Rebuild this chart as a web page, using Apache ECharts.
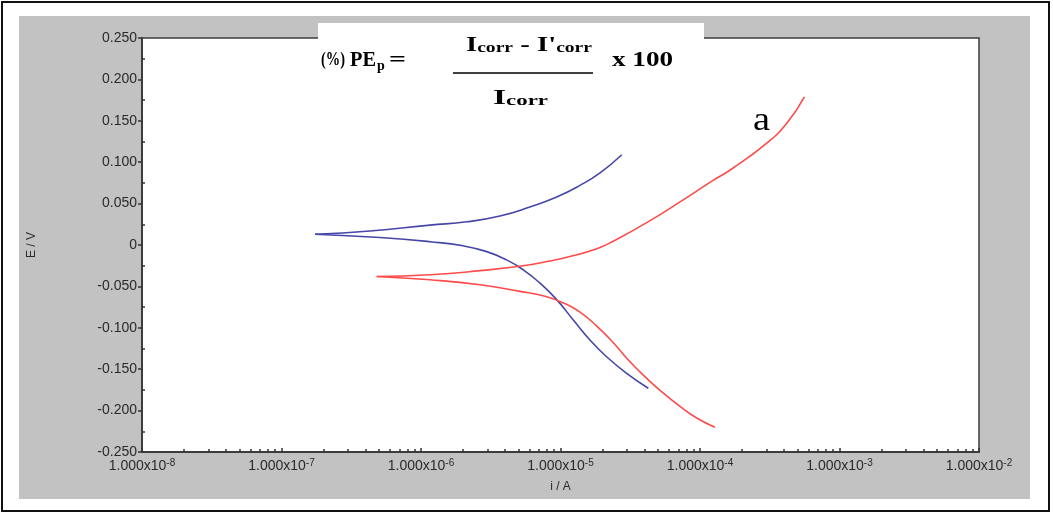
<!DOCTYPE html>
<html>
<head>
<meta charset="utf-8">
<script src="https://cdn.jsdelivr.net/npm/echarts@6/dist/echarts.min.js"></script>
<style>
html,body{margin:0;padding:0;background:#fff;}
#chart{width:1053px;height:515px;}
</style>
</head>
<body>
<div id="chart"></div>
<script>
// ---- Data (current i in A, potential E in V) ----
const blueAnodicI = [1.74e-7, 4.31e-7, 1.16e-6, 2.13e-6, 3.68e-6, 6.04e-6, 9.39e-6, 1.38e-5, 1.92e-5, 2.75e-5];
const blueAnodicE = [0.013, 0.017, 0.024, 0.028, 0.035, 0.046, 0.058, 0.072, 0.087, 0.109];
const blueCathodicI = [1.74e-7, 5.08e-7, 1.16e-6, 2.01e-6, 2.96e-6, 4.11e-6, 5.41e-6, 7.13e-6, 9.39e-6, 1.24e-5, 1.63e-5, 2.14e-5, 2.98e-5, 4.26e-5];
const blueCathodicE = [0.013, 0.009, 0.004, -0.001, -0.008, -0.018, -0.030, -0.046, -0.066, -0.091, -0.115, -0.135, -0.155, -0.173];
const redAnodicI = [4.81e-7, 1.16e-6, 2.65e-6, 5.41e-6, 7.96e-6, 1.17e-5, 1.82e-5, 2.39e-5, 4.15e-5, 7.19e-5, 1.24e-4, 1.73e-4, 3.01e-4, 4.19e-4, 5.60e-4];
const redAnodicE = [-0.038, -0.036, -0.031, -0.025, -0.020, -0.014, -0.0045, 0.0046, 0.027, 0.052, 0.078, 0.093, 0.123, 0.147, 0.179];
const redCathodicI = [4.81e-7, 1.16e-6, 2.65e-6, 5.13e-6, 7.74e-6, 1.05e-5, 1.38e-5, 1.82e-5, 2.39e-5, 3.15e-5, 4.15e-5, 5.46e-5, 7.19e-5, 9.46e-5, 1.28e-4];
const redCathodicE = [-0.038, -0.042, -0.048, -0.056, -0.062, -0.070, -0.081, -0.098, -0.118, -0.141, -0.161, -0.179, -0.195, -0.209, -0.220];

const xMajorTicks = [1e-8, 1e-7, 1e-6, 1e-5, 1e-4, 1e-3, 1e-2];
const yMinorTicks = [0.225, 0.175, 0.125, 0.075, 0.025, -0.025, -0.075, -0.125, -0.175, -0.225];

const zip = (a, b) => a.map((v, i) => [v, b[i]]);
const xMinorTicks = [];
for (let d = -8; d < -2; d++) for (let m = 2; m <= 9; m++) xMinorTicks.push(m * Math.pow(10, d));

const SERIF = '"Liberation Serif","Times New Roman",serif';
const SANS = 'Arial,"Liberation Sans",Helvetica,sans-serif';

// measure text to fit formula pieces into their widths
const ctx = document.createElement('canvas').getContext('2d');
function fontOf(size, weight) { return (weight || 'bold') + ' ' + size + 'px ' + SERIF; }
function measure(text, size, weight) { ctx.font = fontOf(size, weight); return ctx.measureText(text).width; }
function piece(text, left, width, cy, size, weight) {
  const w = measure(text, size, weight);
  return {
    type: 'text', x: left, y: cy, z: 20, scaleX: width ? width / w : 1,
    style: { text: text, x: 0, y: 0, font: fontOf(size, weight), fill: '#000', textAlign: 'left', textVerticalAlign: 'middle' }
  };
}
// tokens: [text, isSub]
function richPiece(tokens, left, width, cy) {
  let w = 0, str = '';
  tokens.forEach(t => { w += measure(t[0], t[1] ? 15 : 22); str += '{' + (t[1] ? 's' : 'm') + '|' + t[0] + '}'; });
  return {
    type: 'text', x: left, y: cy, z: 20, scaleX: width / w,
    style: {
      text: str, x: 0, y: 0, fill: '#000', textAlign: 'left', textVerticalAlign: 'middle',
      rich: {
        m: { font: fontOf(22), fill: '#000', lineHeight: 26, verticalAlign: 'bottom' },
        s: { font: fontOf(15), fill: '#000', lineHeight: 20, verticalAlign: 'bottom' }
      }
    }
  };
}

const chart = echarts.init(document.getElementById('chart'), null, { renderer: 'canvas' });
const BLUE = '#4646a8', RED = '#ff4a4a';
function curve(data, color) {
  return { type: 'line', data: data, smooth: 0.5, showSymbol: false,
    lineStyle: { color: color, width: 1.6 }, itemStyle: { color: color } };
}
const labelColor = '#2a2a2a';
chart.setOption({
  animation: false,
  backgroundColor: '#fff',
  grid: { left: 142, right: 74, top: 38, bottom: 63, show: true, backgroundColor: '#fff', borderColor: '#3c3c3c', borderWidth: 1.5 },
  xAxis: [{
    type: 'log', logBase: 10, min: 1e-8, max: 1e-2,
    name: 'i / A', nameLocation: 'middle', nameGap: 29,
    nameTextStyle: { fontFamily: SANS, fontSize: 12, color: labelColor },
    axisLine: { show: true, onZero: false, lineStyle: { color: '#3c3c3c', width: 2 } },
    axisTick: { show: true, inside: true, length: 4, customValues: xMajorTicks, lineStyle: { color: '#333', width: 1.5 } },
    axisLabel: {
      show: true, margin: 6, customValues: xMajorTicks,
      formatter: function (v) {
        const e = Math.round(Math.log10(v));
        return '{n|1.000x10}{e|' + e + '}';
      },
      rich: {
        n: { fontFamily: SANS, fontSize: 14, color: labelColor, lineHeight: 16 },
        e: { fontFamily: SANS, fontSize: 10, color: labelColor, verticalAlign: 'top', lineHeight: 16 }
      }
    },
    splitLine: { show: false }
  }, {
    type: 'log', logBase: 10, min: 1e-8, max: 1e-2, position: 'bottom',
    axisLine: { show: false, onZero: false },
    axisTick: { show: true, inside: true, length: 3, customValues: xMinorTicks, lineStyle: { color: '#333', width: 1.5 } },
    axisLabel: { show: false },
    splitLine: { show: false }
  }],
  yAxis: [{
    type: 'value', min: -0.25, max: 0.25, interval: 0.05,
    name: 'E / V', nameLocation: 'middle', nameGap: 104, nameRotate: 90,
    nameTextStyle: { fontFamily: SANS, fontSize: 12, color: labelColor },
    axisLine: { show: true, onZero: false, lineStyle: { color: '#3c3c3c', width: 2 } },
    axisTick: { show: true, inside: false, length: 4, lineStyle: { color: '#333', width: 1.5 } },
    axisLabel: {
      margin: 5, fontFamily: SANS, fontSize: 14, color: labelColor,
      formatter: v => Math.abs(v) < 1e-9 ? '0' : v.toFixed(3)
    },
    splitLine: { show: false }
  }, {
    type: 'value', min: -0.25, max: 0.25, position: 'left',
    axisLine: { show: false, onZero: false },
    axisTick: { show: true, inside: true, length: 3, customValues: yMinorTicks, lineStyle: { color: '#333', width: 1.5 } },
    axisLabel: { show: false },
    splitLine: { show: false }
  }],
  series: [
    curve(zip(blueAnodicI, blueAnodicE), BLUE),
    curve(zip(blueCathodicI, blueCathodicE), BLUE),
    curve(zip(redAnodicI, redAnodicE), RED),
    curve(zip(redCathodicI, redCathodicE), RED)
  ],
  graphic: [
    { type: 'rect', z: -10, shape: { x: 19, y: 16, width: 1011, height: 483 }, style: { fill: '#c2c2c2' } },
    { type: 'rect', z: -9, shape: { x: 2, y: 2, width: 1047, height: 509 }, style: { fill: 'none', stroke: '#111', lineWidth: 2 } },
    { type: 'rect', z: 15, shape: { x: 318, y: 23, width: 386, height: 17 }, style: { fill: '#fff' } },
    piece('(%)', 321, 24, 60, 19),
    piece('PE', 350, 26, 60, 22),
    piece('p', 377, null, 66, 14),
    piece('=', 389, 17, 60, 22),
    richPiece([['I', 0], ['corr', 1], [" - I'", 0], ['corr', 1]], 466, 126, 43),
    { type: 'line', z: 20, shape: { x1: 453, y1: 73, x2: 593, y2: 73 }, style: { stroke: '#000', lineWidth: 1.5 } },
    richPiece([['I', 0], ['corr', 1]], 493, 55, 96),
    piece('x 100', 612, 61, 60, 22),
    piece('a', 753, 17, 121, 34, 'normal')
  ]
});
</script>
</body>
</html>
